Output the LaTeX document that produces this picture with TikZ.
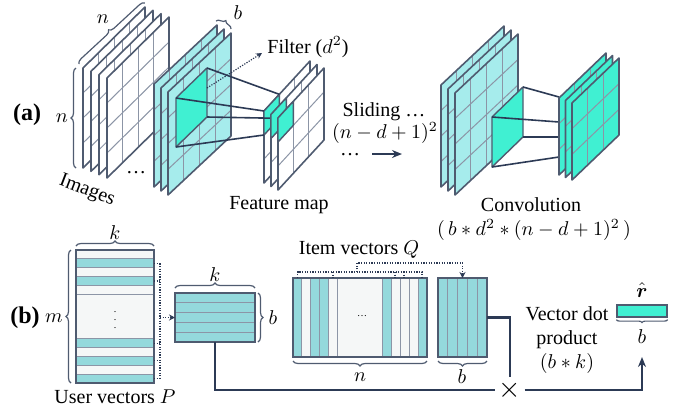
\documentclass[tikz,border=0pt]{standalone}
\usepackage{amsmath}
\usepackage{fontspec}
\setmainfont{Liberation Serif}
\usepackage{tikz}
\usetikzlibrary{
    decorations.pathreplacing,
    arrows.meta,
    calc,
    positioning
}

\definecolor{sheetcyan}{HTML}{A6ECEC}
\definecolor{filtergreen}{HTML}{40F0D2}
\definecolor{stripecyan}{HTML}{94D9DC}
\definecolor{edgeslate}{HTML}{4F5B70}
\definecolor{gridgrey}{HTML}{8C95A6}
\definecolor{linknavy}{HTML}{2C3A55}
\definecolor{matbg}{HTML}{F5F7F7}

\tikzset{
    sheetedge/.style={draw=edgeslate, line width=0.8pt, line join=round},
    gridline/.style={draw=gridgrey, line width=0.5pt},
    filterface/.style={fill=filtergreen, draw=edgeslate, line width=0.7pt, line join=round},
    link/.style={draw=linknavy, line width=0.8pt},
    dotlink/.style={draw=linknavy, dash pattern=on 0.6pt off 0.7pt, line width=0.6pt},
    flow/.style={draw=linknavy, line width=1.1pt},
    curly/.style={decorate, decoration={brace, amplitude=#1}, draw=edgeslate, line width=0.6pt},
    curly/.default=2.5pt,
    matbox/.style={fill=matbg, inner sep=0pt, outer sep=0pt},
    matedge/.style={draw=edgeslate, line width=0.8pt},
    stripe/.style={fill=stripecyan},
    rowline/.style={draw=gridgrey, line width=0.5pt}
}

% #1,#2 left top corner, #3 width, #4 height, #5 rise, #6 cells, #7 fill
\newcommand{\drawsheet}[7]{%
    \fill[#7] (#1,#2) -- ++(#3,-#5) -- ++(0,#4) -- ++(-#3,#5) -- cycle;
    \pgfmathtruncatemacro{\lastcut}{#6-1}
    \foreach \i in {1,...,\lastcut}{
        \draw[gridline] ({#1+\i*#3/#6},{#2-\i*#5/#6}) -- ++(0,#4);
        \draw[gridline] (#1,{#2+\i*#4/#6}) -- ++(#3,-#5);
    }
    \draw[sheetedge] (#1,#2) -- ++(#3,-#5) -- ++(0,#4) -- ++(-#3,#5) -- cycle;
}
\newcommand{\drawpatch}[7]{%
    \filldraw[#6] (#1,#2) coordinate (#7-tl) -- ++(#3,-#5) coordinate (#7-tr)
        -- ++(0,#4) coordinate (#7-br) -- ++(-#3,#5) coordinate (#7-bl) -- cycle;
}

\begin{document}
\begin{tikzpicture}[x=0.5pt, y=-0.5pt]
\useasboundingbox (0,0) rectangle (686,414);

% (a) convolution
\node[font=\large\bfseries] (taga) at (27,115) {(a)};
\foreach \sx/\sy in {83/68,91/71.33,99/74.67,107/78}{\drawsheet{\sx}{\sy}{62}{100}{61}{4}{fill=white}}
\draw[curly] (79,64) -- (145,3);
\node (ntop) at (103,19) {$n$};
\draw[curly] (76,168) -- (76,68);
\node (nleft) at (62,118) {$n$};
\node[rotate=-21, inner sep=0.5pt] (images) at (87,191) {Images};
\node[inner sep=0pt] (imgdots) at (136,173) {\dots};

\foreach \sx/\sy in {154/84,161/88,168/92}{\drawsheet{\sx}{\sy}{63}{103}{59}{4}{fill=sheetcyan}}
\drawpatch{176}{98}{31}{49}{30}{filterface}{lf}
\draw[curly] (216,21) -- (231,29);
\node (bstack) at (238,13) {$b$};

\coordinate (lf-mid) at (207,88);
\coordinate (filtertip) at (262,53);
\node[anchor=west, inner sep=1pt] (filterlbl) at (265,47) {Filter ($d^2$)};
\draw[dotlink, -{Stealth[length=3pt, width=3pt]}] (lf-mid) -- (filtertip);

\drawsheet{264}{111}{46}{72}{50}{3}{fill=white}
\drawpatch{264}{111}{15.33}{24}{16.67}{filterface}{fmb}
\draw[link] (lf-tr) -- (fmb-tr) (lf-tl) -- (fmb-tl) (lf-br) -- (fmb-br) (lf-bl) -- (fmb-bl);
\drawsheet{271}{114.5}{46}{72}{50}{3}{fill=white}
\drawpatch{271}{114.5}{15.33}{24}{16.67}{filterface}{fmm}
\drawsheet{278}{118}{46}{72}{50}{3}{fill=white}
\drawpatch{278}{118}{15.33}{24}{16.67}{filterface}{fmf}
\node (featlbl) at (279,205) {Feature map};

\node (sliding) at (384,112) {Sliding \dots};
\node[inner sep=1pt] (slidecount) at (385,133) {$(n-d+1)^2$};
\node[inner sep=0pt] (slidedots) at (350,155) {\dots};
\coordinate (slidestart) at (372,154);
\coordinate (slideend) at (402,154);
\draw[link, line width=1pt, -{Stealth[length=5pt, width=4pt]}] (slidestart) -- (slideend);

\foreach \sx/\sy in {441/85,448/89,455/93}{\drawsheet{\sx}{\sy}{63}{102}{59}{4}{fill=sheetcyan}}
\drawpatch{492}{117}{31}{50}{30}{filterface}{rf}
\coordinate (gs-a) at (559,97);
\coordinate (gs-b) at (559,122);
\coordinate (gs-c) at (559,137);
\coordinate (gs-d) at (559,157);
\draw[link] (rf-tr) -- (gs-a) (rf-tl) -- (gs-b) (rf-br) -- (gs-c) (rf-bl) -- (gs-d);
\foreach \sx/\sy in {559/98,565.5/100.5,572/103}{\drawsheet{\sx}{\sy}{47}{77}{45}{3}{fill=filtergreen}}
\node (convlbl) at (531,205) {Convolution};
\node (convcost) at (534,230) {$(\,b*d^2*(n-d+1)^2\,)$};

% (b) dot product
\node[font=\large\bfseries] (tagb) at (25,318) {(b)};
\node (mlbl) at (54,318) {$m$};
\node[matbox, minimum width=39pt, minimum height=66.5pt] (user) at (115,316.5) {};
\foreach \r in {1,3,10,12,14}{\fill[stripe] (76,{250+\r*8.867}) rectangle ++(78,8.867);}
\foreach \r in {1,2,3,4,5,10,11,12,13,14}{\draw[rowline] (76,{250+\r*8.867}) -- ++(78,0);}
\draw[matedge] (user.north west) rectangle (user.south east);
\node[font=\tiny] (uservdots) at (115,314) {$\vdots$};
\draw[curly] (user.south west) ++(-5,0) -- ([xshift=-2.5pt]user.north west);
\draw[curly] ([yshift=2pt]user.north west) -- ([yshift=2pt]user.north east);
\node (kuser) at (115,233) {$k$};
\node (userlbl) at (115,397) {User vectors $P$};

\node[matbox, fill=stripecyan, minimum width=40pt, minimum height=24.5pt] (userb) at (215,317.5) {};
\foreach \r in {1,...,4}{\draw[rowline] (175,{293+\r*9.8}) -- ++(80,0);}
\draw[matedge] (userb.north west) rectangle (userb.south east);
\draw[curly] ([yshift=2.5pt]userb.north west) -- ([yshift=2.5pt]userb.north east);
\node (kuserb) at (215,275) {$k$};
\draw[curly] ([xshift=1.5pt]userb.north east) -- ([xshift=1.5pt]userb.south east);
\node (buserb) at (273,318) {$b$};

\foreach \r in {1,3,10,12,14}{\draw[dotlink] (154,{250+(\r+0.5)*8.867}) -- (160,{250+(\r+0.5)*8.867});}
\draw[dotlink] (160,263.3) -- (160,378.6);
\coordinate (userfork) at (160,317.5);
\draw[dotlink, -{Stealth[length=3pt, width=3pt]}] (userfork) -- (userb.west);

\node[matbox, minimum width=67pt, minimum height=39.5pt] (item) at (360,317.5) {};
\foreach \c in {0,2,3,10,14}{\fill[stripe] ({293+\c*8.933},278) rectangle ++(8.933,79);}
\foreach \c in {1,2,3,4,5,10,11,12,13,14}{\draw[rowline] ({293+\c*8.933},278) -- ++(0,79);}
\draw[matedge] (item.north west) rectangle (item.south east);
\node[font=\tiny] (itemdots) at (362,316) {\dots};
\draw[curly] ([yshift=-2pt]item.south east) -- ([yshift=-2pt]item.south west);
\node (nitem) at (360,377) {$n$};
\node (itemlbl) at (359,250) {Item vectors $Q$};

\node[matbox, fill=stripecyan, minimum width=24.5pt, minimum height=39.5pt] (itemb) at (462.5,317.5) {};
\foreach \c in {1,...,4}{\draw[rowline] ({438+\c*9.8},278) -- ++(0,79);}
\draw[matedge] (itemb.north west) rectangle (itemb.south east);
\draw[curly] ([yshift=-2pt]itemb.south east) -- ([yshift=-2pt]itemb.south west);
\node (bitemb) at (462,377) {$b$};

\draw[dotlink] (297.5,278) -- (297.5,272) -- (422,272) -- (422,278);
\foreach \c in {333,395,404}{\draw[dotlink] (\c,272) -- (\c,278);}
\coordinate (itemfork) at (357,272);
\draw[dotlink, -{Stealth[length=3pt, width=3pt]}] (itemfork) -- (357,263) -| (itemb.north);

\node[font=\Large, inner sep=1.5pt] (times) at (510,390) {$\times$};
\node[align=center] (dotlbl) at (567,340) {Vector dot\\product\\$(b*k)$};
\node[fill=filtergreen, draw=edgeslate, line width=0.6pt, minimum width=25pt, minimum height=6pt, inner sep=0pt] (rbar) at (642,311) {};
\node (rhat) at (642,290) {$\hat{\boldsymbol{r}}$};
\draw[curly=1.5pt] ([yshift=-1pt]rbar.south east) -- ([yshift=-1pt]rbar.south west);
\node (brbar) at (642,337) {$b$};

\draw[flow] (userb.south) |- (times.west);
\draw[flow] (itemb.east) -| (times.north);
\draw[flow, -{Stealth[length=5pt, width=4pt]}] (times.east) -| ([yshift=-3pt]brbar.south);
\end{tikzpicture}
\end{document}
